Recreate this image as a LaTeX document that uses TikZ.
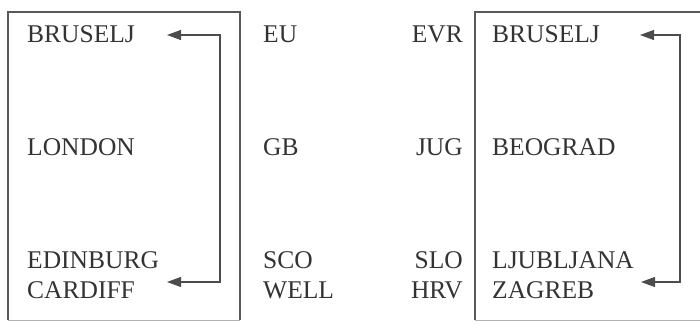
\documentclass[tikz,border=0pt]{standalone}
\usepackage{fontspec}
\setmainfont{Liberation Serif}
\usetikzlibrary{arrows.meta}

\tikzset{
  word/.style={inner sep=0pt, text=black!80, font=\fontsize{25.5}{30}\selectfont},
  frame/.style={black!65, line width=1.1pt},
  faint/.style={black!30, line width=1pt},
  link/.style={black!70, line width=1.1pt, {Triangle[length=14pt,width=10pt]}-{Triangle[length=14pt,width=10pt]}}
}

\begin{document}
\begin{tikzpicture}[x=1pt,y=-1pt]
\useasboundingbox (0,0) rectangle (700,324);

% the two frames
\draw[frame] (8,320) -- (8,12) -- (240,12) -- (240,320);
\draw[faint] (8,320) -- (240,320);
\draw[frame] (700,12) -- (475,12) -- (475,320);
\draw[faint] (475,320) -- (700,320);

% left frame
\node[word, anchor=base west] (bru1) at (27,42) {BRUSELJ};
\node[word, anchor=base west] (lon) at (27,155) {LONDON};
\node[word, anchor=base west] (edi) at (27,268) {EDINBURG};
\node[word, anchor=base west] (car) at (27,298) {CARDIFF};

% middle columns
\node[word, anchor=base west] (eu) at (263,42) {EU};
\node[word, anchor=base west] (gb) at (263,155) {GB};
\node[word, anchor=base west] (sco) at (263,268) {SCO};
\node[word, anchor=base west] (well) at (263,298) {WELL};

\node[word, anchor=base east] (evr) at (463,42) {EVR};
\node[word, anchor=base east] (jug) at (463,155) {JUG};
\node[word, anchor=base east] (slo) at (463,268) {SLO};
\node[word, anchor=base east] (hrv) at (463,298) {HRV};

% right frame
\node[word, anchor=base west] (bru2) at (492,42) {BRUSELJ};
\node[word, anchor=base west] (beo) at (492,155) {BEOGRAD};
\node[word, anchor=base west] (lju) at (492,268) {LJUBLJANA};
\node[word, anchor=base west] (zag) at (492,298) {ZAGREB};

% arrows
\coordinate (a1) at (167,35);
\coordinate (b1) at (167,282);
\coordinate (c1) at (220,0);
\draw[link] (b1) -- (b1 -| c1) -- (a1 -| c1) -- (a1);

\coordinate (a2) at (640,35);
\coordinate (b2) at (641,282);
\coordinate (c2) at (680,0);
\draw[link] (b2) -- (b2 -| c2) -- (a2 -| c2) -- (a2);
\end{tikzpicture}
\end{document}
